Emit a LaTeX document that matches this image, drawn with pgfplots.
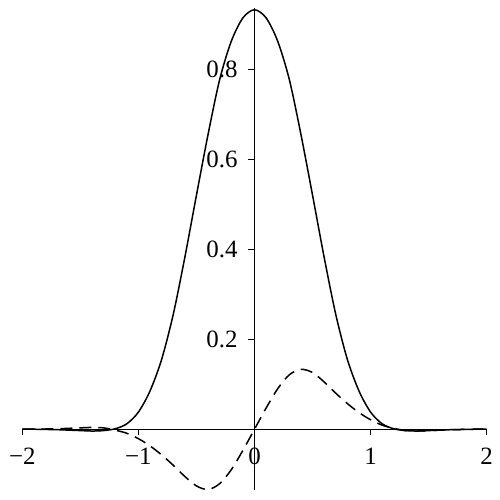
\documentclass[border=0pt]{standalone}
\usepackage{pgfplots}
\pgfplotsset{compat=1.18}
\usepackage{fontspec}
\setmainfont{Liberation Serif}

% solid (even) and dashed (odd) curve
\pgfplotstableread{
x      s       d
-2.0   0.000   0.0000
-1.9   0.000   0.0000
-1.8  -0.0005  0.0005
-1.7  -0.001   0.001
-1.6  -0.002   0.002
-1.5  -0.003   0.003
-1.4  -0.004   0.004
-1.3  -0.003   0.003
-1.2   0.001  -0.002
-1.1   0.012  -0.009
-1.0   0.038  -0.021
-0.9   0.085  -0.037
-0.8   0.155  -0.057
-0.7   0.255  -0.080
-0.6   0.382  -0.105
-0.5   0.520  -0.126
-0.4   0.655  -0.134
-0.3   0.777  -0.121
-0.2   0.862  -0.090
-0.1   0.914  -0.047
 0.0   0.932   0.000
 0.1   0.914   0.047
 0.2   0.862   0.090
 0.3   0.777   0.121
 0.4   0.655   0.133
 0.5   0.520   0.126
 0.6   0.382   0.105
 0.7   0.255   0.080
 0.8   0.155   0.057
 0.9   0.085   0.037
 1.0   0.038   0.021
 1.1   0.012   0.009
 1.2   0.001   0.002
 1.3  -0.003  -0.003
 1.4  -0.004  -0.004
 1.5  -0.003  -0.003
 1.6  -0.002  -0.002
 1.7  -0.001  -0.001
 1.8  -0.0005 -0.0005
 1.9   0.000   0.000
 2.0   0.000   0.000
}\curves

\begin{document}
\begin{tikzpicture}
\begin{axis}[
name=a,
scale only axis,
width=232.2bp,
height=241bp,
axis lines=middle,
xmin=-2, xmax=2,
ymin=-0.135, ymax=0.936,
xtick={-2,-1,0,1,2},
xticklabels={−2,−1,0,1,2},
ytick={0.2,0.4,0.6,0.8},
yticklabels={0.2,0.4,0.6,0.8},
hide obscured x ticks=false,
hide obscured y ticks=false,
tick align=outside,
major tick length=3bp,
tick style={black,line width=0.5bp},
axis line style={black,line width=0.5bp,-},
tick label style={font=\fontsize{12.5}{15}\selectfont},
xticklabel style={yshift=-3bp},
yticklabel style={xshift=-2bp},
clip=false,
]
\addplot[black,line width=0.75bp,smooth] table[x=x,y=s] {\curves};
\addplot[black,line width=0.75bp,smooth,dash pattern=on 6bp off 3.5bp] table[x=x,y=d] {\curves};
\end{axis}
\pgfresetboundingbox
\path[use as bounding box] ([shift={(-11.15bp,-5bp)}]a.south west) rectangle ([shift={(6.65bp,4bp)}]a.north east);
\end{tikzpicture}
\end{document}
